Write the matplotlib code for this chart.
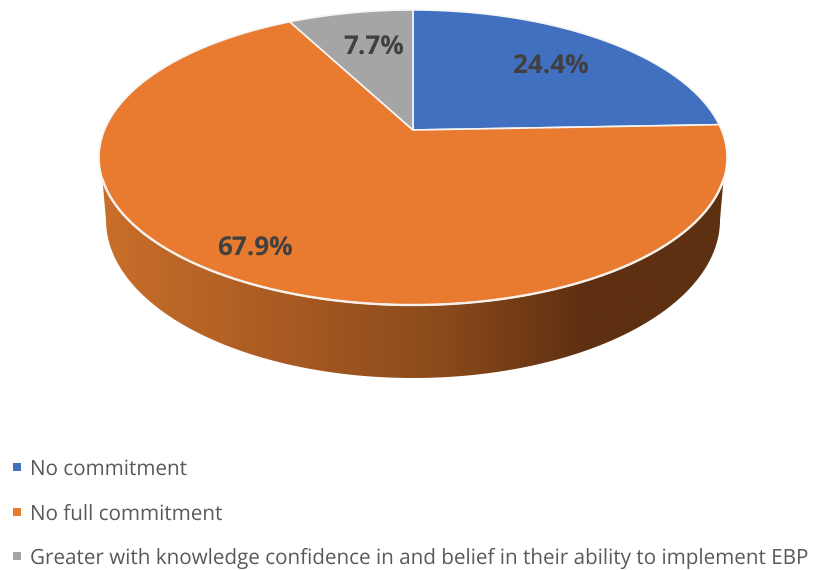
from __future__ import annotations

import numpy as np
import matplotlib.pyplot as plt
from matplotlib.colors import LinearSegmentedColormap
from matplotlib.patches import Polygon, Rectangle

categories = [
    "No commitment",
    "No full commitment",
    "Greater with knowledge confidence in and belief in their ability to implement EBP",
]
shares = [24.4, 67.9, 7.7]
colors = ["#4170C0", "#E97B30", "#A5A5A5"]

# pixel canvas, y pointing down
WIDTH, HEIGHT = 828, 570
APEX_X, APEX_Y = 413.0, 130.0
RADIUS_X, RADIUS_Y = 308.5, 142.4
TILT = 0.1864

plt.rcParams["text.hinting"] = "no_hinting"


def project(angle: np.ndarray, radius: float = 1.0) -> np.ndarray:
    """Map clockwise-from-top angles on the pie disc to canvas pixels."""
    u = radius * np.sin(angle)
    v = radius * np.cos(angle)
    w = 1.0 + TILT * v
    return np.column_stack([APEX_X + RADIUS_X * u / w, APEX_Y - RADIUS_Y * v / w])


def draw_side(ax: plt.Axes) -> None:
    """Draw the shaded wall below the front of the disc."""
    # front arc of the top face, left rim point to right rim point
    rim = project(np.radians(np.linspace(251.0, 109.0, 200)))
    t = np.linspace(np.pi, 0.0, 200)
    floor = np.column_stack([413 + 307 * np.cos(t), 220 + 158 * np.sin(t)])
    outline = np.vstack([rim, floor[::-1]])

    cmap = LinearSegmentedColormap.from_list(
        "side",
        [
            (0.00, "#C96F2A"),
            (0.30, "#A85A22"),
            (0.55, "#8A4A1B"),
            (0.78, "#5E2F11"),
            (1.00, "#5E3113"),
        ],
    )
    gradient = np.linspace(0, 1, 400).reshape(1, -1)
    img = ax.imshow(gradient, cmap=cmap, extent=(99, 727, 400, 100), aspect="auto", zorder=1)
    clip = Polygon(outline, closed=True, transform=ax.transData, facecolor="none", edgecolor="none")
    ax.add_patch(clip)
    img.set_clip_path(clip)
    ax.plot(rim[:, 0], rim[:, 1], color="#F7F1EB", linewidth=1.7, zorder=4)


def draw_top(ax: plt.Axes) -> None:
    """Draw one wedge per share on the top face."""
    edges = np.radians(np.cumsum([0.0] + shares) * 3.6)
    for start, stop, color in zip(edges[:-1], edges[1:], colors):
        arc = project(np.linspace(start, stop, 200))
        points = np.vstack([[APEX_X, APEX_Y], arc])
        ax.add_patch(Polygon(points, closed=True, facecolor=color, edgecolor="#F5F5F5", linewidth=1.2, zorder=3))


fig = plt.figure(figsize=(WIDTH / 100, HEIGHT / 100), dpi=100)
ax = fig.add_axes([0, 0, 1, 1])

draw_side(ax)
draw_top(ax)

label_pos = [(551, 67), (255, 249), (374, 48)]
for share, (x, y) in zip(shares, label_pos):
    ax.text(x, y, f"{share:.1f}%", ha="center", va="center", fontsize=18.8, fontweight="bold",
            family="Open Sans", color="#404040", zorder=5)

# legend rows share a baseline so descenders do not shift them
legend_y = [475, 520, 564]
for name, color, y in zip(categories, colors, legend_y):
    ax.add_patch(Rectangle((13, y - 12), 8, 8, facecolor=color, edgecolor="none"))
    ax.text(30, y, name, ha="left", va="baseline", fontsize=14.85, family="Open Sans", color="#595959")

ax.set_xlim(0, WIDTH)
ax.set_ylim(HEIGHT, 0)
ax.axis("off")

fig.savefig("out.png", dpi=100, facecolor="white")
